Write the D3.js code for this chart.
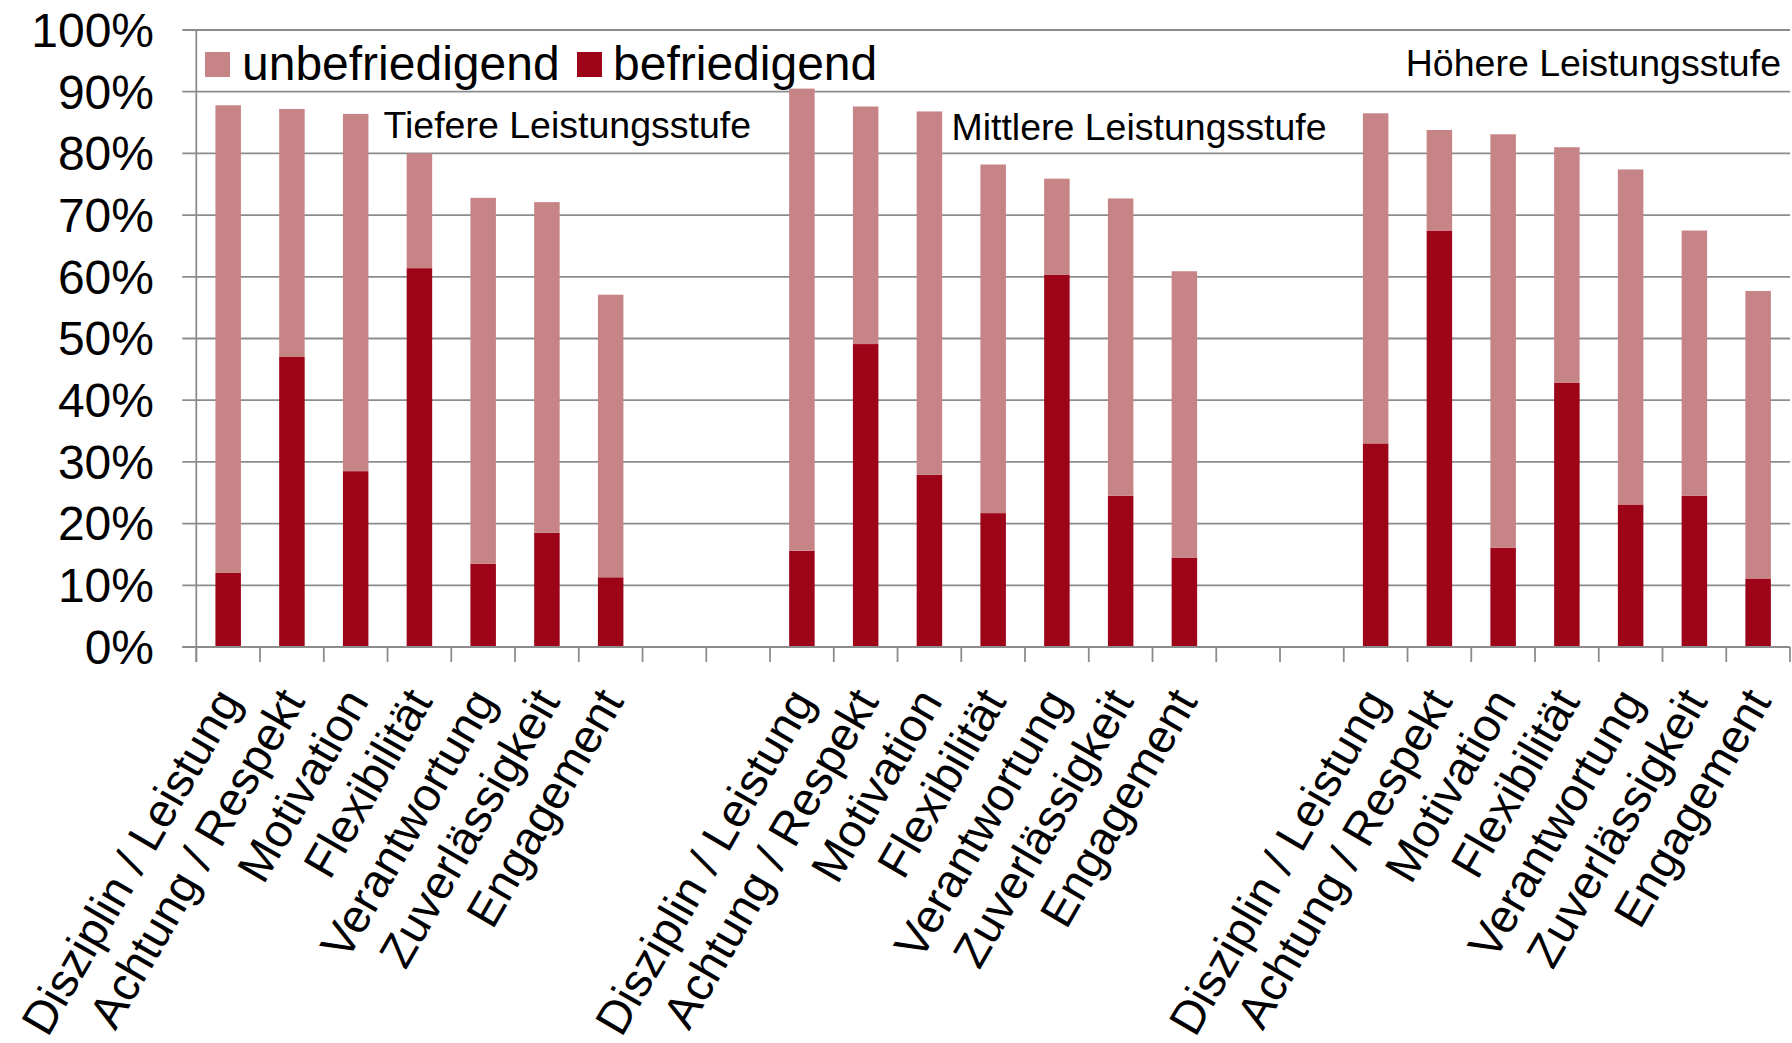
<!DOCTYPE html>
<html>
<head>
<meta charset="utf-8">
<script src="https://cdn.jsdelivr.net/npm/d3@7"></script>
<style>
  html, body { margin: 0; padding: 0; background: #fff; }
  svg { display: block; font-family: "Liberation Sans", Arial, sans-serif; }
</style>
</head>
<body>
<svg id="chart" width="1792" height="1043"></svg>
<script>
// ---- data ----
const categories = ["Disziplin / Leistung", "Achtung / Respekt", "Motivation", "Flexibilität", "Verantwortung", "Zuverlässigkeit", "Engagement"];
const groups = ["Tiefere Leistungsstufe", "Mittlere Leistungsstufe", "Höhere Leistungsstufe"];
const seriesNames = ["unbefriedigend", "befriedigend"];
// befriedigend (dark, bottom) per group, in %
const befriedigendTiefere  = [12.0, 47.0, 28.5, 61.4, 13.5, 18.5, 11.3];
const befriedigendMittlere = [15.6, 49.1, 27.9, 21.7, 60.3, 24.5, 14.5];
const befriedigendHoehere  = [33.0, 67.5, 16.1, 42.8, 23.1, 24.5, 11.1];
// unbefriedigend (light, stacked on top) per group, in %
const unbefriedigendTiefere  = [75.8, 40.2, 57.9, 18.6, 59.3, 53.6, 45.8];
const unbefriedigendMittlere = [74.9, 38.5, 58.9, 56.5, 15.6, 48.2, 46.4];
const unbefriedigendHoehere  = [53.5, 16.3, 67.0, 38.2, 54.3, 43.0, 46.6];
const yTicks = [0, 10, 20, 30, 40, 50, 60, 70, 80, 90, 100];
const gapSlots = 2;

(function () {
const befAll = [befriedigendTiefere, befriedigendMittlere, befriedigendHoehere];
const unbAll = [unbefriedigendTiefere, unbefriedigendMittlere, unbefriedigendHoehere];

// ---- build slot list (with empty slots between groups) ----
const slots = [];
groups.forEach((g, gi) => {
  categories.forEach((c, ci) => {
    slots.push({ key: `g${gi}-c${ci}`, label: c, group: gi, bef: befAll[gi][ci], unb: unbAll[gi][ci] });
  });
  if (gi < groups.length - 1) {
    for (let k = 0; k < gapSlots; k++) slots.push({ key: `gap${gi}-${k}`, label: "", group: gi, empty: true });
  }
});

// ---- layout ----
const svg = d3.select("#chart");
const pLeft = 196.3, pRight = 1790, pTop = 30, pBottom = 647;
const colorLight = "#c78486", colorDark = "#9e0418", gridColor = "#8c8c8c";
const bigFont = 48, labelFont = 46.7, smallFont = 37.5;

const x = d3.scaleBand().domain(slots.map(d => d.key)).range([pLeft, pRight]).paddingInner(0.6).paddingOuter(0.3);
const xSlot = d3.scaleBand().domain(slots.map(d => d.key)).range([pLeft, pRight]).padding(0);
const y = d3.scaleLinear().domain([0, 100]).range([pBottom, pTop]);

// gridlines
svg.append("g").selectAll("line").data(yTicks).join("line")
  .attr("x1", pLeft - 14).attr("x2", pRight)
  .attr("y1", d => y(d)).attr("y2", d => y(d))
  .attr("stroke", gridColor).attr("stroke-width", 1.8);

// y axis line
svg.append("line").attr("x1", pLeft).attr("x2", pLeft).attr("y1", y(100)).attr("y2", pBottom + 15)
  .attr("stroke", gridColor).attr("stroke-width", 1.8);

// y tick labels
svg.append("g").selectAll("text").data(yTicks).join("text")
  .attr("x", 154).attr("y", d => y(d)).attr("dy", "0.35em")
  .attr("text-anchor", "end").attr("font-size", bigFont).attr("fill", "#000")
  .text(d => d + "%");

// x category-boundary ticks
const bounds = slots.map(d => xSlot(d.key)).concat([xSlot(slots[slots.length - 1].key) + xSlot.bandwidth()]);
svg.append("g").selectAll("line").data(bounds).join("line")
  .attr("x1", d => d).attr("x2", d => d).attr("y1", pBottom).attr("y2", pBottom + 15)
  .attr("stroke", gridColor).attr("stroke-width", 1.8);

// bars
const filled = slots.filter(d => !d.empty);
const barG = svg.append("g");
barG.selectAll("rect.bef").data(filled).join("rect").attr("class", "bef")
  .attr("x", d => x(d.key)).attr("width", x.bandwidth())
  .attr("y", d => y(d.bef)).attr("height", d => y(0) - y(d.bef))
  .attr("fill", colorDark);
barG.selectAll("rect.unb").data(filled).join("rect").attr("class", "unb")
  .attr("x", d => x(d.key)).attr("width", x.bandwidth())
  .attr("y", d => y(d.bef + d.unb)).attr("height", d => y(d.bef) - y(d.bef + d.unb))
  .attr("fill", colorLight);

// x axis baseline (on top of bars)
svg.append("line").attr("x1", pLeft - 14).attr("x2", pRight).attr("y1", pBottom).attr("y2", pBottom)
  .attr("stroke", gridColor).attr("stroke-width", 1.8);

// x labels rotated
svg.append("g").selectAll("text").data(filled).join("text")
  .attr("transform", d => `translate(${x(d.key) + x.bandwidth() / 2},693) rotate(-60)`)
  .attr("dy", "0.35em").attr("text-anchor", "end")
  .attr("font-size", labelFont).attr("fill", "#000")
  .text(d => d.label);

// legend
const legend = [
  { name: seriesNames[0], color: colorLight, sx: 205, tx: 242 },
  { name: seriesNames[1], color: colorDark, sx: 577, tx: 613 }
];
const lg = svg.append("g");
lg.selectAll("rect").data(legend).join("rect")
  .attr("x", d => d.sx).attr("y", 52).attr("width", 25).attr("height", 25).attr("fill", d => d.color);
lg.selectAll("text").data(legend).join("text")
  .attr("x", d => d.tx).attr("y", 80).attr("font-size", bigFont).attr("fill", "#000")
  .text(d => d.name);

// group annotations
const annot = [
  { text: groups[0], x: 383.5, y: 138.3, anchor: "start" },
  { text: groups[1], x: 951.4, y: 140, anchor: "start" },
  { text: groups[2], x: 1781, y: 76, anchor: "end" }
];
svg.append("g").selectAll("text").data(annot).join("text")
  .attr("x", d => d.x).attr("y", d => d.y).attr("text-anchor", d => d.anchor)
  .attr("font-size", smallFont).attr("fill", "#000")
  .text(d => d.text);
})();
</script>
</body>
</html>
